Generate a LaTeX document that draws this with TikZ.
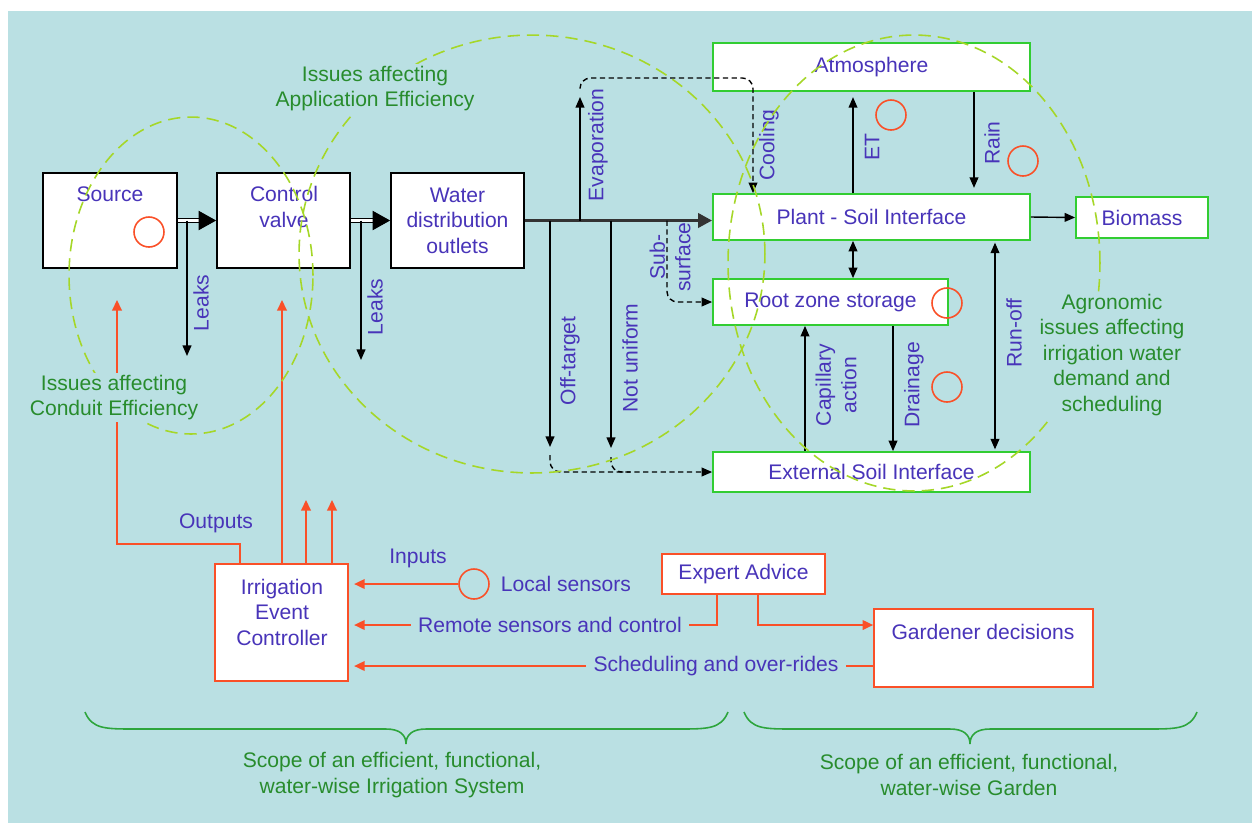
\documentclass[tikz,border=0pt]{standalone}
\usepackage{fontspec}
\setmainfont{Liberation Sans}
\usetikzlibrary{arrows.meta,positioning,calc}

\definecolor{bgc}{RGB}{186,224,227}
\definecolor{txtblue}{RGB}{72,52,185}
\definecolor{txtgreen}{RGB}{40,140,45}
\definecolor{boxgreen}{RGB}{50,205,50}
\definecolor{redc}{RGB}{250,80,40}
\definecolor{ellgreen}{RGB}{165,215,40}
\definecolor{bracegreen}{RGB}{45,165,60}

\tikzset{
  txt/.style={text=txtblue, align=center, inner sep=4pt},
  gtxt/.style={text=txtgreen, align=center, fill=bgc, inner sep=1pt},
  blkbox/.style={draw=black, fill=white, line width=1pt},
  grnbox/.style={draw=boxgreen, fill=white, line width=1pt, text=txtblue},
  redbox/.style={draw=redc, fill=white, line width=1pt, text=txtblue},
  redcirc/.style={draw=redc, line width=0.9pt, circle, minimum size=0.6cm, inner sep=0pt},
  blkarrow/.style={draw=black, line width=0.8pt, -{Triangle[length=6pt,width=5pt]}},
  blkdbl/.style={draw=black, line width=0.8pt, {Triangle[length=6pt,width=5pt]}-{Triangle[length=6pt,width=5pt]}},
  dblarrow/.style={draw=black, double=white, double distance=1.4pt, line width=0.6pt, -{Triangle[length=10pt,width=11pt]}},
  mainarrow/.style={draw=black!80, line width=2pt, -{Triangle[length=8pt,width=8pt]}},
  dasharrow/.style={draw=black, line width=0.8pt, dash pattern=on 3pt off 2pt, rounded corners=6pt, -{Triangle[length=6pt,width=5pt]}},
  dashline/.style={draw=black, line width=0.8pt, dash pattern=on 3pt off 2pt, rounded corners=6pt},
  redarrow/.style={draw=redc, line width=0.9pt, -{Triangle[length=6pt,width=5.5pt]}},
  redline/.style={draw=redc, line width=0.9pt},
  issue/.style={draw=ellgreen, line width=0.9pt, dash pattern=on 7pt off 4pt},
  scopebrace/.style={draw=bracegreen, line width=0.9pt}
}

\begin{document}
\begin{tikzpicture}[x=0.02cm, y=-0.02cm, font=\fontsize{12}{14.5}\selectfont]
    %FRAME
    \useasboundingbox (0,0) rectangle (1252,823);
    \fill[bgc] (8,11) rectangle (1252,823);

    %KOORDINAT
    \coordinate (lk1e) at (187,356);
    \coordinate (lk2e) at (361,360);
    \coordinate (evtop) at (580,97);
    \coordinate (evdash) at (580,88);
    \coordinate (coolc) at (753,78);
    \coordinate (otend) at (550,447);
    \coordinate (nuend) at (611,448);
    \coordinate (otdash) at (550,455);
    \coordinate (nudash) at (611,457);
    \coordinate (nuj) at (630,472);
    \coordinate (subx) at (667,0);
    \coordinate (etx) at (853,0);
    \coordinate (rainx) at (974,0);
    \coordinate (runx) at (995,0);
    \coordinate (capx) at (805,0);
    \coordinate (drainx) at (893,0);
    \coordinate (o1x) at (240,0);
    \coordinate (cdc) at (117,544);
    \coordinate (cdtip) at (117,300);
    \coordinate (o2tip) at (282,300);
    \coordinate (o3tip) at (306,500);
    \coordinate (o4tip) at (332,500);
    \coordinate (rmx) at (717,0);
    \coordinate (egx) at (758,0);

    %KOTAK
    \node[blkbox, minimum width=2.68cm, minimum height=1.9cm] (src) at (110,220.5) {};
    \node[blkbox, minimum width=2.66cm, minimum height=1.9cm] (cv) at (283.5,220.5) {};
    \node[blkbox, minimum width=2.66cm, minimum height=1.9cm, text=txtblue, align=center] (wdo) at (457.5,220.5) {Water\\distribution\\outlets};
    \node[txt] (srctxt) at (110,194) {Source};
    \node[txt] (cvtxt) at (284,207) {Control\\valve};

    \node[grnbox, minimum width=6.34cm, minimum height=0.96cm] (atm) at (871.5,67) {Atmosphere};
    \node[grnbox, minimum width=6.34cm, minimum height=0.92cm] (psi) at (871.5,217) {Plant - Soil Interface};
    \node[grnbox, minimum width=2.64cm, minimum height=0.82cm] (bio) at (1142,217.5) {Biomass};
    \node[grnbox, minimum width=4.7cm, minimum height=0.92cm] (root) at (830.5,302) {Root zone storage};
    \node[grnbox, minimum width=6.34cm, minimum height=0.8cm] (ext) at (871.5,472) {External Soil Interface};

    \node[redbox, minimum width=2.66cm, minimum height=2.34cm] (iec) at (281.5,622.5) {};
    \node[txt] (iectxt) at (282,612) {Irrigation\\Event\\Controller};
    \node[redbox, minimum width=3.26cm, minimum height=0.8cm] (expert) at (743.5,574) {Expert Advice};
    \node[redbox, minimum width=4.38cm, minimum height=1.56cm] (gard) at (983.5,648) {};
    \node[txt] (gardtxt) at (983,632) {Gardener decisions};

    %ALIRAN AIR
    \draw[dblarrow] (src.east) -- (cv.west);
    \draw[dblarrow] (cv.east) -- (wdo.west);
    \draw[blkarrow] (src.east -| lk1e) -- (lk1e);
    \draw[blkarrow] (cv.east -| lk2e) -- (lk2e);
    \draw[mainarrow] (wdo.east) -- (wdo.east -| psi.west);
    \draw[blkarrow] (wdo.east -| evtop) -- (evtop);
    \draw[blkarrow] (wdo.east -| otend) -- (otend);
    \draw[blkarrow] (wdo.east -| nuend) -- (nuend);
    \draw[dasharrow] (evdash) |- (coolc) -- (coolc |- psi.north);
    \draw[dasharrow] (otdash) |- (ext.west);
    \draw[dashline] (nudash) |- (nuj);
    \draw[dasharrow] (wdo.east -| subx) |- (root.west);

    \draw[blkarrow, shorten >=3pt] (psi.north -| etx) -- (atm.south -| etx);
    \draw[blkarrow, shorten >=3pt] (atm.south -| rainx) -- (psi.north -| rainx);
    \draw[blkarrow] (psi.east) -- (bio.west);
    \draw[blkdbl] (psi.south -| etx) -- (root.north -| etx);
    \draw[blkdbl, shorten <=1pt, shorten >=1pt] (ext.north -| runx) -- (psi.south -| runx);
    \draw[blkarrow] (ext.north -| capx) -- (root.south -| capx);
    \draw[blkarrow] (root.south -| drainx) -- (ext.north -| drainx);

    %LABEL
    \node[txt, rotate=90] (leaks1) at (201,303) {Leaks};
    \node[txt, rotate=90] (leaks2) at (375,307) {Leaks};
    \node[txt, rotate=90] (evap) at (598,145) {Evaporation};
    \node[txt, rotate=90] (offt) at (570,361) {Off-target};
    \node[txt, rotate=90] (notu) at (630,358) {Not uniform};
    \node[txt, rotate=90] (subs) at (670,257) {Sub-\\surface};
    \node[txt, rotate=90] (cool) at (769,145) {Cooling};
    \node[txt, rotate=90] (et) at (872,147) {ET};
    \node[txt, rotate=90] (rain) at (992,143) {Rain};
    \node[txt, rotate=90] (runoff) at (1014,333) {Run-off};
    \node[txt, rotate=90] (capact) at (836,385) {Capillary\\action};
    \node[txt, rotate=90] (drain) at (914,385) {Drainage};

    %KONTROL
    \node[txt] (outputs) at (216,523) {Outputs};
    \node[txt] (inputs) at (418,558) {Inputs};
    \node[redcirc] (lsc) at (474,584) {};
    \node[txt] (locsens) at (566,584) {Local sensors};
    \node[txt] (remote) at (550,625) {Remote sensors and control};
    \node[txt] (sched) at (716,666) {Scheduling and over-rides};

    \draw[redarrow] (iec.north -| o1x) |- (cdc) -- (cdtip);
    \draw[redarrow] (iec.north -| o2tip) -- (o2tip);
    \draw[redarrow] (iec.north -| o3tip) -- (o3tip);
    \draw[redarrow] (iec.north -| o4tip) -- (o4tip);
    \draw[redarrow, shorten >=3pt] (lsc.west) -- (iec.east |- lsc);
    \draw[redline] (expert.south -| rmx) |- (remote.east);
    \draw[redarrow, shorten >=3pt] (remote.west) -- (iec.east |- remote);
    \draw[redline] (gard.west |- sched) -- (sched.east);
    \draw[redarrow, shorten >=3pt] (sched.west) -- (iec.east |- sched);
    \draw[redarrow] (expert.south -| egx) |- (gard.west |- remote);

    %LINGKARAN
    \node[redcirc] (c1) at (149,232) {};
    \node[redcirc] (c2) at (891,115) {};
    \node[redcirc] (c3) at (1023,161) {};
    \node[redcirc] (c4) at (947,303) {};
    \node[redcirc] (c5) at (947,387) {};

    %ISSUES
    \draw[issue] (191,275.5) ellipse [x radius=2.44cm, y radius=3.17cm];
    \draw[issue] (532,254) ellipse [x radius=4.66cm, y radius=4.38cm];
    \draw[issue] (914,263) ellipse [x radius=3.72cm, y radius=4.56cm];
    \node[gtxt] (appeff) at (375,88.5) {Issues affecting\\Application Efficiency};
    \node[gtxt] (condeff) at (114,397.5) {Issues affecting\\Conduit Efficiency};
    \node[gtxt] (agro) at (1112,355) {Agronomic\\issues affecting\\irrigation water\\demand and\\scheduling};

    %SCOPE
    \draw[scopebrace] (85,712) .. controls (92,729) and (105,729) .. (135,729) -- (386,729)
        .. controls (400,729) and (406,735) .. (406,744)
        .. controls (406,735) and (412,729) .. (426,729) -- (678,729)
        .. controls (708,729) and (721,729) .. (728,712);
    \draw[scopebrace] (744,712) .. controls (751,729) and (764,729) .. (794,729) -- (950,729)
        .. controls (964,729) and (970,735) .. (970,744)
        .. controls (970,735) and (976,729) .. (990,729) -- (1147,729)
        .. controls (1177,729) and (1190,729) .. (1197,712);
    \node[gtxt, fill=none] (scope1) at (392,775) {Scope of an efficient, functional,\\water-wise Irrigation System};
    \node[gtxt, fill=none] (scope2) at (969,775) {Scope of an efficient, functional,\\water-wise Garden};
\end{tikzpicture}
\end{document}
